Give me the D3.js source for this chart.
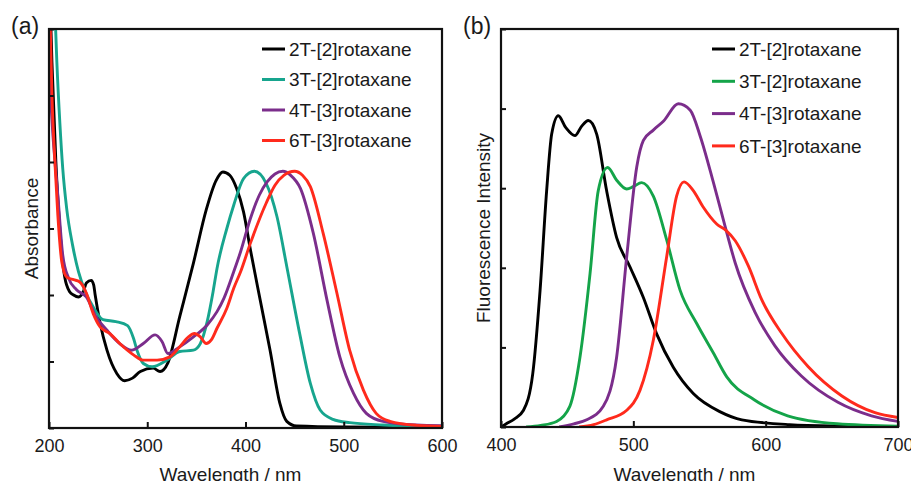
<!DOCTYPE html>
<html>
<head>
<meta charset="utf-8">
<script src="https://cdn.jsdelivr.net/npm/d3@7/dist/d3.min.js"></script>
<style>
  html, body { margin: 0; padding: 0; background: #fff; }
  svg { display: block; }
  text { font-family: "Liberation Sans", Arial, Helvetica, sans-serif; fill: #1a1a1a; }
</style>
</head>
<body>
<svg id="chart" width="911" height="481"></svg>
<script>
// ---------------- DATA ----------------
const seriesNames = ["2T-[2]rotaxane", "3T-[2]rotaxane", "4T-[3]rotaxane", "6T-[3]rotaxane"];
const colorsA = ["#000000", "#17a58e", "#7b2d8b", "#ff2a1c"];
const colorsB = ["#000000", "#14a449", "#7b2d8b", "#ff2a1c"];

const xTicksA = [200, 300, 400, 500, 600];
const xTicksB = [400, 500, 600, 700];
const yTicksA = [0, 1, 2, 3, 4, 5, 6];
const yTicksB = [0, 1, 2, 3, 4, 5];

// Panel (a) absorbance: [wavelength nm, absorbance (a.u.)]
const abs2T = [[200,7.0],[203,5.5],[207,4.0],[211,3.0],[216,2.27],[221,2.05],[225,2.0],[230,1.97],[235,2.05],[238,2.18],[243,2.22],[245.5,2.15],[247,2.0],[252,1.58],[259,1.17],[269,0.82],[277,0.71],[285,0.75],[293,0.85],[306,0.9],[313,0.85],[321,0.98],[333,1.67],[347,2.48],[360,3.28],[370,3.72],[377,3.85],[384,3.8],[391,3.6],[398,3.25],[405,2.68],[415,1.92],[425,1.17],[435,0.37],[442,0.1],[452,0.03],[500,0.015],[600,0.01]];
const abs3T = [[204,7.0],[206,6.3],[208,5.5],[211,4.6],[214,3.9],[218,3.3],[224,2.75],[230,2.35],[237,2.05],[245,1.82],[255,1.63],[268,1.6],[280,1.54],[286,1.35],[290,1.15],[296,0.97],[305,0.92],[320,1.02],[333,1.15],[347,1.17],[354,1.27],[361,1.6],[367,2.05],[371,2.4],[381,3.0],[388,3.35],[398,3.75],[409,3.86],[421,3.68],[432,3.18],[442,2.43],[455,1.43],[466,0.67],[476,0.27],[489,0.13],[506,0.08],[540,0.045],[600,0.02]];
const abs4T = [[200,5.35],[204,4.4],[209,3.5],[214,2.6],[220,2.25],[228,2.08],[238,1.97],[248,1.67],[259,1.47],[272,1.27],[284,1.17],[296,1.27],[308,1.4],[315,1.3],[321,1.12],[333,1.22],[347,1.37],[361,1.55],[371,1.75],[378,1.95],[388,2.35],[395,2.65],[405,3.15],[414,3.5],[422,3.7],[430,3.82],[438,3.86],[446,3.8],[456,3.6],[469,2.93],[483,1.92],[496,1.07],[510,0.52],[523,0.22],[540,0.1],[574,0.045],[600,0.035]];
const abs6T = [[200,6.8],[203,5.0],[206,4.0],[209,3.2],[213,2.5],[218,2.27],[225,2.23],[231,2.2],[238,2.03],[245,1.72],[252,1.52],[262,1.42],[272,1.27],[286,1.1],[296,1.02],[310,1.02],[323,1.07],[333,1.22],[342,1.37],[348,1.42],[354,1.37],[360,1.27],[365,1.32],[371,1.5],[381,1.8],[388,2.1],[395,2.35],[405,2.78],[421,3.38],[430,3.65],[439,3.8],[450,3.86],[458,3.8],[466,3.63],[479,2.93],[493,2.03],[506,1.17],[520,0.57],[533,0.22],[547,0.1],[574,0.04],[600,0.025]];

// Panel (b) fluorescence: [wavelength nm, intensity (a.u.)]
const fl2T = [[400,0.0],[404,0.04],[410,0.1],[417,0.21],[424,0.67],[429.5,1.71],[434.5,2.97],[438.3,3.68],[443.3,3.91],[449,3.76],[455.9,3.66],[461,3.78],[466,3.85],[472.3,3.68],[479.8,2.97],[487.4,2.38],[497.5,2.01],[507.5,1.63],[517.6,1.17],[530.2,0.75],[545.3,0.42],[565.7,0.19],[582,0.09],[618,0.03],[660,0.01],[700,0.0]];
const fl3T = [[419,0.0],[430,0.02],[442,0.07],[452,0.26],[459.7,0.88],[467.3,1.93],[473.5,2.97],[480.6,3.26],[487.4,3.1],[495,2.99],[500,3.02],[506.3,3.07],[515.1,2.9],[525.2,2.35],[535.3,1.72],[547.9,1.3],[560.5,0.93],[570.6,0.63],[591.6,0.34],[616.6,0.14],[654,0.04],[700,0.01]];
const fl4T = [[444,0.0],[455,0.04],[464.8,0.09],[477.3,0.26],[487.4,0.88],[495,2.14],[502.6,3.27],[507.6,3.6],[515.1,3.73],[522.7,3.84],[534,4.06],[543,3.98],[550.6,3.65],[560.7,3.06],[570.8,2.43],[577,2.06],[592,1.44],[607,1.02],[627,0.64],[654.6,0.31],[680,0.14],[700,0.07]];
const fl6T = [[459,0.0],[470,0.03],[479.8,0.09],[495,0.21],[505,0.46],[515.1,1.09],[525.2,2.14],[532.7,2.9],[538.3,3.08],[545.3,2.97],[552.9,2.76],[563,2.55],[570,2.47],[577,2.34],[587,2.02],[597,1.6],[612,1.18],[632,0.76],[657.6,0.39],[682.6,0.18],[700,0.12]];

const absSeries = [abs2T, abs3T, abs4T, abs6T];
const flSeries = [fl2T, fl3T, fl4T, fl6T];

// ---------------- DRAW ----------------
const svg = d3.select("#chart");

function panel(cfg) {
  const { x0, x1, y0, y1, xDom, yDom, xTicks, yTicks, series, colors, label, yTitle, legendX, legendY0, legendStep, id } = cfg;
  const x = d3.scaleLinear().domain(xDom).range([x0, x1]);
  const y = d3.scaleLinear().domain(yDom).range([y1, y0]);
  const g = svg.append("g");

  g.append("clipPath").attr("id", "clip" + id)
    .append("rect").attr("x", x0).attr("y", y0).attr("width", x1 - x0).attr("height", y1 - y0);

  const line = d3.line().x(d => x(d[0])).y(d => y(d[1])).curve(d3.curveMonotoneX);
  const curves = g.append("g").attr("clip-path", `url(#clip${id})`);
  series.forEach((s, i) => {
    curves.append("path").datum(s)
      .attr("fill", "none").attr("stroke", colors[i]).attr("stroke-width", 2.9)
      .attr("stroke-linejoin", "round").attr("d", line);
  });

  // x axis (ticks inside)
  const xa = g.append("g").attr("transform", `translate(0,${y1})`)
    .call(d3.axisBottom(x).tickValues(xTicks).tickFormat(d3.format("d")).tickSizeInner(-6).tickSizeOuter(0).tickPadding(11));
  xa.select(".domain").remove();
  xa.selectAll("line").attr("stroke", "#111").attr("stroke-width", 2);
  xa.selectAll("text").attr("font-size", 18).attr("fill", "#1a1a1a")
    .attr("font-family", "'Liberation Sans', Arial, sans-serif");

  // y axis (no labels, ticks inside)
  const ya = g.append("g").attr("transform", `translate(${x0},0)`)
    .call(d3.axisLeft(y).tickValues(yTicks).tickFormat("").tickSizeInner(-5).tickSizeOuter(0));
  ya.select(".domain").remove();
  ya.selectAll("line").attr("stroke", "#111").attr("stroke-width", 2);

  // frame
  g.append("rect").attr("x", x0).attr("y", y0).attr("width", x1 - x0).attr("height", y1 - y0)
    .attr("fill", "none").attr("stroke", "#111").attr("stroke-width", 2.2);

  // titles
  g.append("text").attr("x", (x0 + x1) / 2 - 15).attr("y", 480.5).attr("text-anchor", "middle")
    .attr("font-size", 19).text("Wavelength / nm");
  g.append("text").attr("transform", `translate(${x0 - 11},${(y0 + y1) / 2}) rotate(-90)`)
    .attr("text-anchor", "middle").attr("font-size", 19).text(yTitle);
  g.append("text").attr("x", x0 - 38).attr("y", 34).attr("font-size", 23).text(label);

  // legend
  seriesNames.forEach((name, i) => {
    const ly = legendY0 + i * legendStep;
    g.append("line").attr("x1", legendX).attr("x2", legendX + 23).attr("y1", ly).attr("y2", ly)
      .attr("stroke", colors[i]).attr("stroke-width", 3);
    g.append("text").attr("x", legendX + 27).attr("y", ly).attr("dy", "0.36em")
      .attr("font-size", 19).text(name);
  });
}

panel({ id: "a", x0: 49, x1: 442, y0: 29, y1: 428, xDom: [200, 600], yDom: [0, 6],
  xTicks: xTicksA, yTicks: yTicksA, series: absSeries, colors: colorsA, label: "(a)",
  yTitle: "Absorbance", legendX: 262, legendY0: 49, legendStep: 30.5 });

panel({ id: "b", x0: 501, x1: 898, y0: 29, y1: 427, xDom: [400, 700], yDom: [0, 5],
  xTicks: xTicksB, yTicks: yTicksB, series: flSeries, colors: colorsB, label: "(b)",
  yTitle: "Fluorescence Intensity", legendX: 712, legendY0: 49, legendStep: 32.3 });
</script>
</body>
</html>
